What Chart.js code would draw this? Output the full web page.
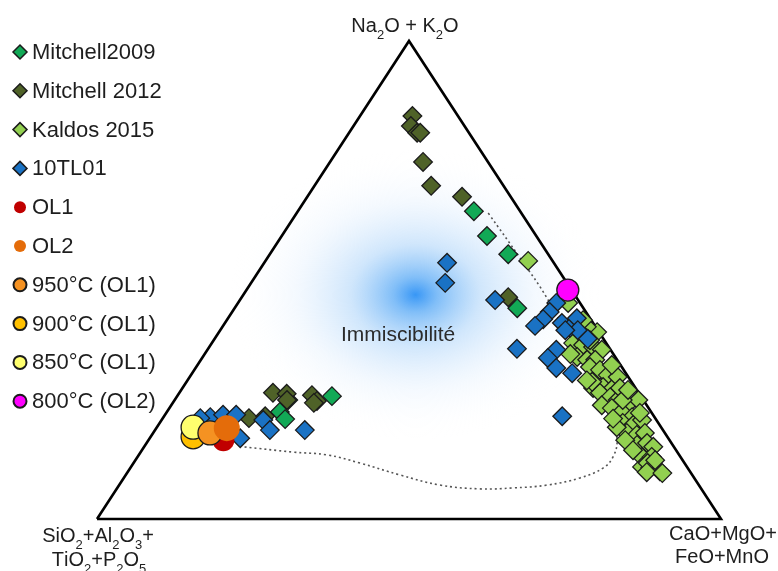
<!DOCTYPE html>
<html>
<head>
<meta charset="utf-8">
<script src="https://cdn.jsdelivr.net/npm/chart.js@4"></script>
<style>
html, body { margin: 0; padding: 0; background: #fff; }
</style>
</head>
<body>
<canvas id="tern" width="778" height="571"></canvas>
<script>
// every point is [Na2O+K2O, CaO+MgO+FeO+MnO] in %, the rest is SiO2+Al2O3+TiO2+P2O5
const mitchell2009 = [[64.4,28.2],[59.2,32.9],[55.4,38.2],[44.1,45.3],[22.4,18.1],[20.9,19.7],[25.7,24.8],[24.9,18.2]];
const mitchell2012 = [[84.3,8.4],[82.2,9.2],[80.8,10.9],[80.8,11.4],[74.7,14.9],[69.7,18.7],[67.4,24.8],[46.4,42.7],
  [26.4,15.0],[26.2,17.3],[24.9,18.0],[25.9,21.5],[24.7,22.9],[24.3,22.6],[21.1,13.8],[21.5,16.2]];
const kaldos2015 = [[54.0,42.1],[45.2,52.9],[39.1,60.6],[40.2,58.4],[39.1,57.9],[36.8,57.9],[36.4,59.7],[36.0,61.5],
  [35.4,63.2],[33.9,60.0],[33.3,61.9],[33.3,63.2],[31.8,63.1],[31.2,65.0],[30.1,66.8],[27.4,65.8],[27.6,67.3],
  [27.4,69.0],[29.7,68.6],[26.4,67.4],[25.5,69.5],[24.9,71.0],[23.8,73.0],[24.9,74.3],[23.8,69.0],[23.2,70.9],
  [22.4,72.9],[21.3,75.1],[20.1,74.2],[19.7,76.1],[20.7,77.0],[18.0,75.9],[17.6,77.7],[18.0,78.8],[15.5,78.8],
  [15.9,80.2],[15.1,81.6],[13.0,80.8],[13.0,82.4],[10.9,81.9],[10.7,83.3],[10.0,85.2],[28.7,65.0],[27.4,70.1],
  [24.9,71.8],[19.2,73.7],[16.5,76.4],[14.4,78.7],[22.2,75.9],[11.7,82.4],[9.8,83.2],[41.6,57.1],[37.4,60.3],
  [32.2,66.4],[27.0,71.6],[12.3,83.3],[34.5,58.6],[29.0,64.0],[21.0,72.2],[9.6,85.8]];
const tl01 = [[53.6,29.3],[49.4,31.1],[45.8,40.9],[45.2,51.0],[43.3,50.9],[41.8,50.6],[40.4,50.0],[41.0,54.0],
  [40.0,55.8],[42.0,55.9],[39.5,57.3],[39.5,55.3],[37.7,59.8],[35.6,49.5],[35.4,55.9],[33.7,55.4],[31.6,57.8],
  [30.5,60.9],[21.5,63.8],[21.3,7.5],[21.8,9.3],[21.8,11.4],[20.7,16.3],[18.6,18.4],[16.9,14.5],[18.6,24.0],[21.1,6.0]];
const ol1 = [[16.5,12.0]];
const ol2 = [[19.0,11.3]];
const t950 = [[18.0,9.1]];
const t900 = [[17.2,6.8]];
const t850 = [[19.2,5.8]];
const t800 = [[47.9,51.5]];

// immiscibility gap outline (dotted)
const gapLine = [[64.0,30.7],[54.6,40.5],[45.8,49.4],[31.2,62.6],[21.8,71.6],[16.5,75.1],[13.0,76.2],[10.7,75.8],
  [8.6,73.1],[7.1,68.6],[6.5,63.4],[6.3,58.2],[7.1,51.4],[9.2,44.0],[11.7,36.3],[13.4,30.2],[14.0,24.4],[15.1,15.9]];
const corners = [[0,0],[0,100],[100,0],[0,0]];
const gapCentre = [46.9, 27.6];
const gapLabelPos = [38.5, 29.0];

const FONT = 'Arial, "Liberation Sans", sans-serif';

function tern(p){
    return {x: p[1] + p[0] / 2, y: p[0]};
}

function diamonds(label, pts, color, order){
    return {label: label, data: pts.map(tern), pointStyle: 'rectRot', pointRadius: 9.3,
        backgroundColor: color, borderColor: '#1b1b1b', borderWidth: 1.3, order: order,
        legendRadius: 7, legendBorder: 1.5};
}
function dots(label, pts, color, r, border, order){
    return {label: label, data: pts.map(tern), pointStyle: 'circle', pointRadius: r,
        backgroundColor: color, borderColor: '#1b1b1b', borderWidth: border, order: order,
        legendRadius: border ? 6.5 : 6, legendBorder: border ? 2 : 0};
}

// text with _x subscripts
function chem(ctx, str, cx, y, size){
    const parts = [];
    for(let i = 0; i < str.length; i++){
        if(str[i] === '_'){ parts.push({t: str[i+1], sub: true}); i++; }
        else parts.push({t: str[i], sub: false});
    }
    let w = 0;
    parts.forEach(p => {
        ctx.font = (p.sub ? size * 0.65 : size) + 'px ' + FONT;
        p.w = ctx.measureText(p.t).width;
        w += p.w;
    });
    let x = cx - w / 2;
    parts.forEach(p => {
        ctx.font = (p.sub ? size * 0.65 : size) + 'px ' + FONT;
        ctx.fillText(p.t, x, p.sub ? y + size * 0.33 : y);
        x += p.w;
    });
}

const glow = {
    id: 'glow',
    beforeDatasetsDraw(chart){
        const ctx = chart.ctx, sx = chart.scales.x, sy = chart.scales.y;
        const c = tern(gapCentre);
        const cx = sx.getPixelForValue(c.x), cy = sy.getPixelForValue(c.y);
        ctx.save();
        ctx.translate(cx, cy);
        ctx.scale(185, 145);
        const g = ctx.createRadialGradient(0, 0, 0, 0, 0, 1);
        g.addColorStop(0, 'rgba(45,145,245,0.95)');
        g.addColorStop(0.12, 'rgba(80,165,245,0.72)');
        g.addColorStop(0.35, 'rgba(150,200,248,0.45)');
        g.addColorStop(0.65, 'rgba(205,228,252,0.22)');
        g.addColorStop(1, 'rgba(255,255,255,0)');
        ctx.fillStyle = g;
        ctx.beginPath();
        ctx.arc(0, 0, 1, 0, Math.PI * 2);
        ctx.fill();
        ctx.restore();

        const l = tern(gapLabelPos);
        ctx.save();
        ctx.fillStyle = '#2b2b2b';
        ctx.font = '21px ' + FONT;
        ctx.textAlign = 'center';
        ctx.textBaseline = 'middle';
        ctx.fillText('Immiscibilité', sx.getPixelForValue(l.x), sy.getPixelForValue(l.y));
        ctx.restore();
    }
};

const labels = {
    id: 'labels',
    afterDraw(chart){
        const ctx = chart.ctx;
        ctx.save();
        ctx.fillStyle = '#1e1e1e';
        ctx.textBaseline = 'alphabetic';
        chem(ctx, 'Na_2O + K_2O', 405, 32, 20);
        chem(ctx, 'SiO_2+Al_2O_3+', 98, 542, 20);
        chem(ctx, 'TiO_2+P_2O_5', 99, 566, 20);
        chem(ctx, 'CaO+MgO+', 723, 540, 20);
        chem(ctx, 'FeO+MnO', 722, 563, 20);

        // legend
        let row = 0;
        chart.data.datasets.forEach(ds => {
            if(!ds.label) return;
            const y = 52 + row * 38.8;
            ctx.fillStyle = ds.backgroundColor;
            ctx.strokeStyle = ds.borderColor;
            ctx.lineWidth = ds.legendBorder;
            Chart.helpers.drawPoint(ctx, {pointStyle: ds.pointStyle, radius: ds.legendRadius, rotation: 0,
                borderWidth: ds.legendBorder}, 20, y);
            ctx.fillStyle = '#1e1e1e';
            ctx.font = '22px ' + FONT;
            ctx.textBaseline = 'middle';
            ctx.fillText(ds.label, 32, y + 1);
            row++;
        });
        ctx.restore();
    }
};

new Chart(document.getElementById('tern'), {
    type: 'scatter',
    data: {
        datasets: [
            diamonds('Mitchell2009', mitchell2009, '#12a956', 14),
            diamonds('Mitchell 2012', mitchell2012, '#4f6228', 13),
            diamonds('Kaldos 2015', kaldos2015, '#92d050', 15),
            diamonds('10TL01', tl01, '#1a72c4', 12),
            dots('OL1', ol1, '#c00000', 11, 0, 11),
            dots('OL2', ol2, '#e46c0a', 13, 0, 7),
            dots('950°C (OL1)', t950, '#f59222', 12, 1.3, 8),
            dots('900°C (OL1)', t900, '#ffc000', 12, 1.3, 10),
            dots('850°C (OL1)', t850, '#ffff6e', 12, 1.3, 9),
            dots('800°C (OL2)', t800, '#ff00ff', 11, 1.3, 6),
            {data: gapLine.map(tern), showLine: true, tension: 0.4, borderColor: '#555', borderWidth: 1.6,
                borderDash: [2, 3], pointRadius: 0, order: 19},
            {data: corners.map(tern), showLine: true, tension: 0, borderColor: '#000', borderWidth: 2.6,
                pointRadius: 0, order: 20}
        ]
    },
    options: {
        responsive: false,
        animation: false,
        events: [],
        clip: false,
        layout: {padding: {left: 97, top: 41, right: 57, bottom: 52}},
        scales: {
            x: {type: 'linear', min: 0, max: 100, display: false},
            y: {type: 'linear', min: 0, max: 100, display: false}
        },
        plugins: {legend: {display: false}, tooltip: {enabled: false}}
    },
    plugins: [glow, labels]
});
</script>
</body>
</html>
